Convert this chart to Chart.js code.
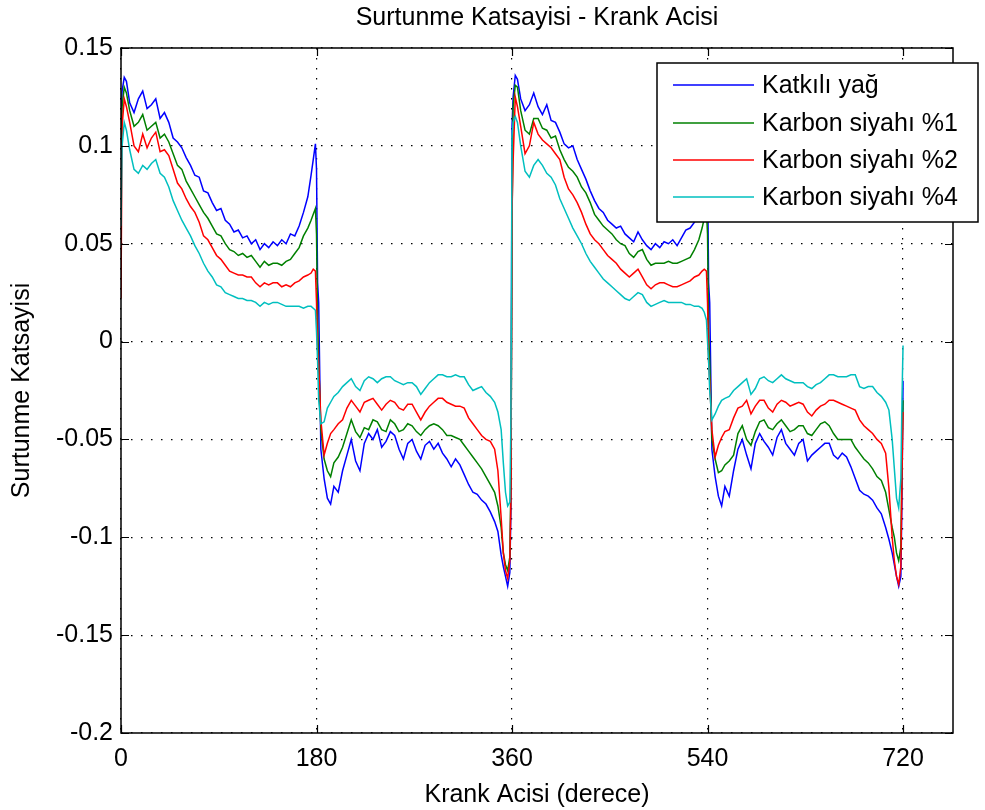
<!DOCTYPE html>
<html>
<head>
<meta charset="utf-8">
<script src="https://cdn.jsdelivr.net/npm/chart.js@4.4.1/dist/chart.umd.min.js"></script>
<style>
  html, body { margin: 0; padding: 0; background: #fff; }
  #wrap { width: 985px; height: 810px; }
</style>
</head>
<body>
<div id="wrap"><canvas id="chart" width="985" height="810"></canvas></div>
<script>
// Krank acisi (derece), shared by all four series
const ANGLE = [
  0, 1, 3, 5, 8,
  12, 16, 20, 24, 28, 32, 36, 40, 44, 48, 52, 56, 60, 64, 68, 72, 76, 80, 84, 88, 92, 96, 100, 104, 108, 112, 116, 120, 124, 128, 132, 136, 140, 144, 148, 152, 156, 160, 164, 168, 172,
  175, 177, 179, 180, 181, 182, 184, 187, 190, 193, 196,
  200, 204, 208, 212, 216, 220, 224, 228, 232, 236, 240, 244, 248, 252, 256, 260, 264, 268, 272, 276, 280, 284, 288, 292, 296, 300, 304, 308, 312, 316, 320, 324, 328, 332, 336, 340, 344,
  347, 350, 352, 354, 356, 358, 359, 360,
  361, 363, 365, 368,
  372, 376, 380, 384, 388, 392, 396, 400, 404, 408, 412, 416, 420, 424, 428, 432, 436, 440, 444, 448, 452, 456, 460, 464, 468, 472, 476, 480, 484, 488, 492, 496, 500, 504, 508, 512, 516, 520, 524, 528, 532,
  535, 537, 539, 540, 541, 542, 544, 547, 550, 553, 556,
  560, 564, 568, 572, 576, 580, 584, 588, 592, 596, 600, 604, 608, 612, 616, 620, 624, 628, 632, 636, 640, 644, 648, 652, 656, 660, 664, 668, 672, 676, 680, 684, 688, 692, 696, 700, 704,
  707, 710, 712, 714, 716, 718, 719, 720
];

const KATKILI_YAG = [
  0.112, 0.128, 0.135, 0.133, 0.122,
  0.117, 0.124, 0.128, 0.119, 0.121, 0.124, 0.114, 0.117, 0.112, 0.104, 0.102, 0.099, 0.094, 0.090, 0.085, 0.084, 0.077, 0.076, 0.071, 0.067, 0.068, 0.062, 0.060, 0.056, 0.057, 0.053, 0.054, 0.050, 0.052, 0.047, 0.050, 0.048, 0.051, 0.049, 0.052, 0.050, 0.055, 0.054, 0.059, 0.066, 0.074,
  0.085, 0.093, 0.101, 0.088, 0.030, 0.020, -0.055, -0.070, -0.080, -0.083, -0.074,
  -0.077, -0.066, -0.058, -0.050, -0.061, -0.066, -0.052, -0.047, -0.050, -0.045, -0.054, -0.051, -0.046, -0.048, -0.055, -0.060, -0.052, -0.050, -0.056, -0.060, -0.053, -0.051, -0.055, -0.052, -0.057, -0.060, -0.064, -0.060, -0.063, -0.068, -0.073, -0.077, -0.078, -0.081, -0.083, -0.087, -0.092,
  -0.097, -0.109, -0.115, -0.120, -0.125, -0.118, -0.085, 0.110,
  0.125, 0.136, 0.134, 0.124,
  0.118, 0.121, 0.127, 0.120, 0.116, 0.121, 0.113, 0.112, 0.107, 0.101, 0.099, 0.100, 0.093, 0.088, 0.083, 0.077, 0.072, 0.068, 0.066, 0.062, 0.060, 0.058, 0.059, 0.055, 0.053, 0.051, 0.056, 0.052, 0.049, 0.047, 0.050, 0.048, 0.051, 0.050, 0.052, 0.049, 0.053, 0.057, 0.058, 0.061, 0.069,
  0.078, 0.088, 0.100, 0.090, 0.030, 0.020, -0.055, -0.069, -0.079, -0.084, -0.074,
  -0.079, -0.066, -0.055, -0.050, -0.058, -0.065, -0.052, -0.047, -0.051, -0.054, -0.058, -0.049, -0.045, -0.052, -0.055, -0.058, -0.052, -0.050, -0.061, -0.058, -0.056, -0.054, -0.052, -0.052, -0.058, -0.060, -0.057, -0.059, -0.064, -0.070, -0.076, -0.078, -0.079, -0.081, -0.085, -0.088, -0.095,
  -0.101, -0.108, -0.114, -0.120, -0.125, -0.120, -0.080, -0.020
];

const KARBON_1 = [
  0.090, 0.120, 0.130, 0.127, 0.118,
  0.110, 0.112, 0.116, 0.108, 0.110, 0.112, 0.104, 0.106, 0.102, 0.096, 0.090, 0.088, 0.082, 0.078, 0.074, 0.070, 0.066, 0.063, 0.059, 0.055, 0.054, 0.050, 0.047, 0.046, 0.044, 0.045, 0.043, 0.044, 0.041, 0.038, 0.041, 0.039, 0.040, 0.040, 0.039, 0.041, 0.042, 0.045, 0.048, 0.054, 0.058,
  0.062, 0.065, 0.068, 0.055, 0.010, -0.010, -0.045, -0.060, -0.066, -0.069, -0.062,
  -0.059, -0.054, -0.047, -0.040, -0.046, -0.049, -0.044, -0.045, -0.040, -0.041, -0.045, -0.046, -0.040, -0.042, -0.046, -0.045, -0.042, -0.043, -0.046, -0.048, -0.045, -0.043, -0.042, -0.043, -0.045, -0.048, -0.048, -0.049, -0.050, -0.053, -0.056, -0.059, -0.062, -0.065, -0.069, -0.073, -0.077,
  -0.084, -0.095, -0.108, -0.114, -0.117, -0.110, -0.070, 0.060,
  0.120, 0.131, 0.130, 0.118,
  0.108, 0.106, 0.114, 0.114, 0.109, 0.108, 0.104, 0.105, 0.098, 0.093, 0.089, 0.087, 0.084, 0.079, 0.076, 0.071, 0.065, 0.062, 0.059, 0.057, 0.055, 0.052, 0.050, 0.049, 0.045, 0.043, 0.046, 0.047, 0.042, 0.039, 0.040, 0.040, 0.040, 0.041, 0.040, 0.040, 0.041, 0.042, 0.043, 0.047, 0.052,
  0.058, 0.063, 0.067, 0.055, 0.005, -0.010, -0.050, -0.060, -0.067, -0.066, -0.063,
  -0.061, -0.058, -0.047, -0.043, -0.050, -0.053, -0.046, -0.041, -0.040, -0.044, -0.045, -0.042, -0.040, -0.043, -0.046, -0.045, -0.043, -0.043, -0.047, -0.048, -0.045, -0.042, -0.041, -0.043, -0.047, -0.050, -0.050, -0.050, -0.050, -0.054, -0.057, -0.060, -0.062, -0.065, -0.069, -0.071, -0.077,
  -0.086, -0.095, -0.100, -0.108, -0.112, -0.105, -0.060, -0.030
];

const KARBON_2 = [
  0.022, 0.110, 0.124, 0.120, 0.112,
  0.100, 0.097, 0.106, 0.099, 0.104, 0.107, 0.097, 0.098, 0.095, 0.088, 0.081, 0.078, 0.073, 0.069, 0.066, 0.061, 0.054, 0.052, 0.048, 0.044, 0.042, 0.039, 0.036, 0.035, 0.034, 0.034, 0.033, 0.033, 0.030, 0.028, 0.030, 0.029, 0.030, 0.030, 0.028, 0.029, 0.028, 0.030, 0.031, 0.033, 0.034,
  0.035, 0.037, 0.036, 0.020, -0.004, -0.012, -0.040, -0.058, -0.052, -0.047, -0.045,
  -0.042, -0.040, -0.034, -0.030, -0.033, -0.036, -0.031, -0.030, -0.029, -0.032, -0.035, -0.032, -0.030, -0.031, -0.034, -0.035, -0.032, -0.032, -0.036, -0.040, -0.036, -0.033, -0.031, -0.029, -0.029, -0.031, -0.032, -0.033, -0.033, -0.034, -0.039, -0.042, -0.045, -0.048, -0.050, -0.051, -0.055,
  -0.066, -0.090, -0.108, -0.117, -0.121, -0.112, -0.080, 0.066,
  0.092, 0.125, 0.120, 0.110,
  0.096, 0.100, 0.112, 0.106, 0.103, 0.101, 0.099, 0.096, 0.093, 0.084, 0.078, 0.075, 0.071, 0.066, 0.060, 0.055, 0.052, 0.050, 0.047, 0.044, 0.042, 0.040, 0.037, 0.035, 0.033, 0.035, 0.037, 0.033, 0.029, 0.027, 0.029, 0.030, 0.030, 0.029, 0.028, 0.028, 0.029, 0.030, 0.031, 0.033, 0.034,
  0.036, 0.037, 0.036, 0.020, -0.010, -0.020, -0.045, -0.059, -0.053, -0.049, -0.046,
  -0.045, -0.039, -0.034, -0.033, -0.030, -0.037, -0.033, -0.030, -0.030, -0.034, -0.036, -0.032, -0.030, -0.031, -0.033, -0.032, -0.031, -0.032, -0.036, -0.038, -0.035, -0.033, -0.032, -0.030, -0.030, -0.031, -0.032, -0.033, -0.034, -0.035, -0.040, -0.043, -0.045, -0.047, -0.050, -0.052, -0.057,
  -0.075, -0.100, -0.112, -0.120, -0.124, -0.115, -0.070, -0.036
];

const KARBON_4 = [
  0.059, 0.100, 0.112, 0.108, 0.098,
  0.088, 0.086, 0.090, 0.088, 0.091, 0.093, 0.086, 0.084, 0.079, 0.072, 0.067, 0.062, 0.058, 0.054, 0.049, 0.045, 0.040, 0.036, 0.033, 0.029, 0.028, 0.025, 0.024, 0.023, 0.022, 0.022, 0.021, 0.021, 0.020, 0.018, 0.020, 0.019, 0.020, 0.020, 0.019, 0.018, 0.018, 0.018, 0.018, 0.017, 0.018,
  0.018, 0.017, 0.016, 0.005, -0.010, -0.030, -0.042, -0.041, -0.034, -0.031, -0.028,
  -0.026, -0.023, -0.021, -0.019, -0.023, -0.025, -0.020, -0.018, -0.019, -0.021, -0.019, -0.018, -0.018, -0.020, -0.021, -0.022, -0.021, -0.021, -0.023, -0.027, -0.024, -0.021, -0.019, -0.017, -0.017, -0.018, -0.018, -0.017, -0.018, -0.018, -0.022, -0.025, -0.024, -0.023, -0.026, -0.028, -0.031,
  -0.036, -0.045, -0.062, -0.077, -0.084, -0.082, -0.040, 0.105,
  0.112, 0.115, 0.112, 0.100,
  0.087, 0.084, 0.090, 0.093, 0.090, 0.086, 0.084, 0.080, 0.073, 0.068, 0.063, 0.058, 0.054, 0.050, 0.045, 0.041, 0.038, 0.035, 0.032, 0.030, 0.028, 0.026, 0.024, 0.022, 0.021, 0.023, 0.025, 0.024, 0.020, 0.018, 0.019, 0.020, 0.021, 0.020, 0.020, 0.020, 0.020, 0.019, 0.019, 0.018, 0.018,
  0.017, 0.015, 0.011, 0.000, -0.010, -0.025, -0.040, -0.037, -0.033, -0.030, -0.029,
  -0.028, -0.025, -0.023, -0.021, -0.019, -0.027, -0.024, -0.019, -0.018, -0.020, -0.021, -0.019, -0.017, -0.019, -0.020, -0.021, -0.021, -0.021, -0.023, -0.024, -0.022, -0.021, -0.019, -0.017, -0.017, -0.018, -0.018, -0.018, -0.017, -0.017, -0.023, -0.024, -0.023, -0.023, -0.026, -0.028, -0.031,
  -0.035, -0.050, -0.065, -0.080, -0.085, -0.070, -0.030, -0.002
];

const SERIES_NAMES = ["Katkılı yağ", "Karbon siyahı %1", "Karbon siyahı %2", "Karbon siyahı %4"];
const X_TICKS = [0, 180, 360, 540, 720];
const Y_TICKS = [0.15, 0.1, 0.05, 0, -0.05, -0.1, -0.15, -0.2];

const COLORS = ["#0000ff", "#008000", "#ff0000", "#00bfbf"];
const FONT = "'Liberation Sans', Arial, sans-serif";
const FS = 25;

const toPoints = (vals) => ANGLE.map((a, i) => ({ x: a, y: vals[i] }));
const fmtTick = (v) => String(Number(v.toFixed(2)));

// frame, inward tick marks and the boxed legend, MATLAB style
const axesDecor = {
  id: "axesDecor",
  afterDraw(chart) {
    const { ctx, chartArea: a, scales } = chart;
    ctx.save();
    ctx.strokeStyle = "#000";
    ctx.lineWidth = 1.5;
    ctx.strokeRect(a.left, a.top, a.right - a.left, a.bottom - a.top);

    ctx.lineWidth = 1.2;
    const tl = 8;
    ctx.beginPath();
    X_TICKS.forEach((t) => {
      const px = Math.round(scales.x.getPixelForValue(t)) + 0.5;
      ctx.moveTo(px, a.bottom); ctx.lineTo(px, a.bottom - tl);
      ctx.moveTo(px, a.top); ctx.lineTo(px, a.top + tl);
    });
    Y_TICKS.forEach((t) => {
      const py = Math.round(scales.y.getPixelForValue(t)) + 0.5;
      ctx.moveTo(a.left, py); ctx.lineTo(a.left + tl, py);
      ctx.moveTo(a.right, py); ctx.lineTo(a.right - tl, py);
    });
    ctx.stroke();

    // legend box
    const bx = 657, by = 63, bw = 321, bh = 159;
    ctx.fillStyle = "#fff";
    ctx.fillRect(bx, by, bw, bh);
    ctx.lineWidth = 1.5;
    ctx.strokeRect(bx, by, bw, bh);
    ctx.font = FS + "px " + FONT;
    ctx.textBaseline = "middle";
    ctx.textAlign = "left";
    const rows = [85, 123, 160, 197];
    SERIES_NAMES.forEach((name, i) => {
      ctx.strokeStyle = COLORS[i];
      ctx.lineWidth = 1.5;
      ctx.beginPath();
      ctx.moveTo(673, rows[i]); ctx.lineTo(754, rows[i]);
      ctx.stroke();
      ctx.fillStyle = "#000";
      ctx.fillText(name, 762, rows[i] + 1);
    });
    ctx.restore();
  },
};

Chart.defaults.font.family = FONT;
Chart.defaults.color = "#000";

new Chart(document.getElementById("chart"), {
  type: "line",
  data: {
    datasets: [KATKILI_YAG, KARBON_1, KARBON_2, KARBON_4].map((vals, i) => ({
      label: SERIES_NAMES[i],
      data: toPoints(vals),
      borderColor: COLORS[i],
      borderWidth: 1.5,
      pointRadius: 0,
      tension: 0,
      fill: false,
      order: 3 - i,
    })),
  },
  options: {
    responsive: false,
    animation: false,
    events: [],
    layout: { padding: { left: 0, right: 32, top: 0, bottom: 0 } },
    plugins: {
      legend: { display: false },
      tooltip: { enabled: false },
      title: {
        display: true,
        fullSize: false,
        text: "Surtunme Katsayisi - Krank Acisi",
        font: { size: FS, weight: "normal", lineHeight: 1.2 },
        color: "#000",
        padding: { top: 3, bottom: 15 },
      },
    },
    scales: {
      x: {
        type: "linear",
        min: 0,
        max: 766,
        afterFit: (s) => { s.height = 77; },
        afterBuildTicks: (s) => { s.ticks = X_TICKS.map((v) => ({ value: v })); },
        ticks: { font: { size: FS }, padding: 11, maxRotation: 0 },
        grid: { color: "#000", lineWidth: 1.2, drawTicks: false },
        border: { display: false, dash: [1.5, 8.5] },
        title: { display: true, text: "Krank Acisi (derece)", font: { size: FS, lineHeight: 1.2 }, padding: { top: 0, bottom: 0 } },
      },
      y: {
        type: "linear",
        min: -0.2,
        max: 0.15,
        afterFit: (s) => { s.width = 121; },
        afterBuildTicks: (s) => { s.ticks = Y_TICKS.map((v) => ({ value: v })); },
        ticks: { font: { size: FS }, padding: 8, callback: fmtTick },
        grid: { color: "#000", lineWidth: 1.2, drawTicks: false },
        border: { display: false, dash: [1.5, 8.5] },
        title: { display: true, text: "Surtunme Katsayisi", font: { size: FS, lineHeight: 1.2 }, padding: { top: 7, bottom: 0 } },
      },
    },
  },
  plugins: [axesDecor],
});
</script>
</body>
</html>
